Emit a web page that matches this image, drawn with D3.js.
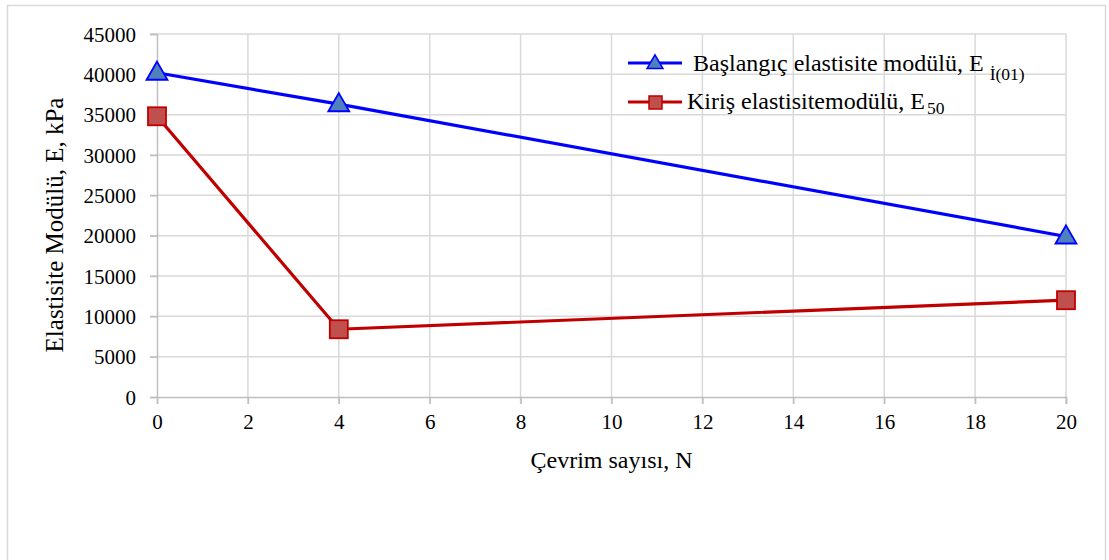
<!DOCTYPE html>
<html>
<head>
<meta charset="utf-8">
<script src="https://cdn.jsdelivr.net/npm/d3@7"></script>
<style>
  body { margin: 0; background: #fff; }
  text { font-family: "Liberation Serif", "Times New Roman", serif; fill: #000; }
</style>
</head>
<body>
<div class="chart"></div>
<script>
// data
var cycles = [0, 4, 20];
var initialModulus = [40200, 36300, 19900];
var secantModulus = [34800, 8400, 12000];
var xTicks = [0, 2, 4, 6, 8, 10, 12, 14, 16, 18, 20];
var yTicks = [0, 5000, 10000, 15000, 20000, 25000, 30000, 35000, 40000, 45000];

var svgWidth = 1109;
var svgHeight = 560;

var margin = { top: 34, right: 43, bottom: 163, left: 157 };
var width = svgWidth - margin.left - margin.right;
var height = svgHeight - margin.top - margin.bottom;

var svg = d3.select(".chart")
  .append("svg")
  .attr("width", svgWidth)
  .attr("height", svgHeight);

// outer chart border
svg.append("rect")
  .attr("x", 7.5).attr("y", 5.5)
  .attr("width", 1098).attr("height", 580)
  .attr("fill", "none")
  .attr("stroke", "#d9d9d9")
  .attr("stroke-width", 1.5);

var chartGroup = svg.append("g")
  .attr("transform", `translate(${margin.left}, ${margin.top})`);

var x = d3.scaleLinear().domain([0, 20]).range([0, width]);
var y = d3.scaleLinear().domain([0, 45000]).range([height, 0]);

// grid lines
chartGroup.append("g")
  .selectAll("line")
  .data(yTicks.slice(1))
  .enter().append("line")
  .attr("x1", -7).attr("x2", width)
  .attr("y1", d => y(d)).attr("y2", d => y(d))
  .attr("stroke", "#d9d9d9").attr("stroke-width", 1.5);

chartGroup.append("g")
  .selectAll("line")
  .data(xTicks.slice(1))
  .enter().append("line")
  .attr("x1", d => x(d)).attr("x2", d => x(d))
  .attr("y1", 0).attr("y2", height + 7)
  .attr("stroke", "#d9d9d9").attr("stroke-width", 1.5);

// axes
var bottomAxis = d3.axisBottom(x).tickValues(xTicks).tickSize(7).tickPadding(10);
var leftAxis = d3.axisLeft(y).tickValues(yTicks).tickSize(7).tickPadding(14).tickFormat(d3.format("d"));

var xAxisG = chartGroup.append("g")
  .attr("transform", `translate(0, ${height})`)
  .call(bottomAxis);
var yAxisG = chartGroup.append("g").call(leftAxis);

[xAxisG, yAxisG].forEach(function(g) {
  g.attr("font-family", "Liberation Serif").attr("font-size", 21);
  g.select(".domain").attr("stroke", "#bfbfbf").attr("stroke-width", 1.5);
  g.selectAll(".tick line").attr("stroke", "#bfbfbf").attr("stroke-width", 1.5);
  g.selectAll(".tick text").attr("fill", "#000");
});
yAxisG.selectAll(".tick text").attr("dy", "0.34em");
xAxisG.selectAll(".tick text").attr("dy", "0.72em");

// lines
var line = d3.line()
  .x(d => x(d[0]))
  .y(d => y(d[1]));

var blueData = cycles.map((c, i) => [c, initialModulus[i]]);
var redData = cycles.map((c, i) => [c, secantModulus[i]]);

chartGroup.append("path")
  .datum(blueData)
  .attr("d", line)
  .attr("fill", "none")
  .attr("stroke", "#0000ff")
  .attr("stroke-width", 3.2);

chartGroup.append("path")
  .datum(redData)
  .attr("d", line)
  .attr("fill", "none")
  .attr("stroke", "#c00000")
  .attr("stroke-width", 3.2);

var tri = d3.symbol().type(d3.symbolTriangle).size(190);

chartGroup.selectAll("path.tri")
  .data(blueData)
  .enter().append("path")
  .attr("class", "tri")
  .attr("d", tri)
  .attr("transform", d => `translate(${x(d[0])}, ${y(d[1]) + 1})`)
  .attr("fill", "#4f81bd")
  .attr("stroke", "#0000ff")
  .attr("stroke-width", 1.8);

chartGroup.selectAll("rect.sq")
  .data(redData)
  .enter().append("rect")
  .attr("class", "sq")
  .attr("x", d => x(d[0]) - 9)
  .attr("y", d => y(d[1]) - 9)
  .attr("width", 18).attr("height", 18)
  .attr("fill", "#c0504d")
  .attr("stroke", "#c00000")
  .attr("stroke-width", 1.8);

// axis titles
svg.append("text")
  .attr("transform", "translate(63, 225) rotate(-90)")
  .attr("text-anchor", "middle")
  .style("font-size", "25px")
  .text("Elastisite Modülü, E, kPa");

svg.append("text")
  .attr("x", margin.left + width / 2)
  .attr("y", 468)
  .attr("text-anchor", "middle")
  .style("font-size", "24px")
  .text("Çevrim sayısı, N");

// legend
var legend = svg.append("g");

legend.append("line")
  .attr("x1", 628).attr("x2", 682).attr("y1", 63).attr("y2", 63)
  .attr("stroke", "#0000ff").attr("stroke-width", 3.2);
legend.append("path")
  .attr("d", d3.symbol().type(d3.symbolTriangle).size(110))
  .attr("transform", "translate(655, 64)")
  .attr("fill", "#4f81bd").attr("stroke", "#0000ff").attr("stroke-width", 1.5);

var t1 = legend.append("text")
  .attr("x", 693).attr("y", 71)
  .style("font-size", "24px");
t1.append("tspan").text("Başlangıç elastisite modülü, E");
t1.append("tspan").attr("dx", 6).attr("dy", 9).style("font-size", "17.5px").text("İ(01)");

legend.append("line")
  .attr("x1", 628).attr("x2", 682).attr("y1", 102).attr("y2", 102)
  .attr("stroke", "#c00000").attr("stroke-width", 3.2);
legend.append("rect")
  .attr("x", 649).attr("y", 96).attr("width", 13).attr("height", 13)
  .attr("fill", "#c0504d").attr("stroke", "#c00000").attr("stroke-width", 1.5);

var t2 = legend.append("text")
  .attr("x", 687).attr("y", 109)
  .style("font-size", "24px");
t2.append("tspan").text("Kiriş elastisitemodülü, E");
t2.append("tspan").attr("dx", 2).attr("dy", 5).style("font-size", "17.5px").text("50");
</script>
</body>
</html>
